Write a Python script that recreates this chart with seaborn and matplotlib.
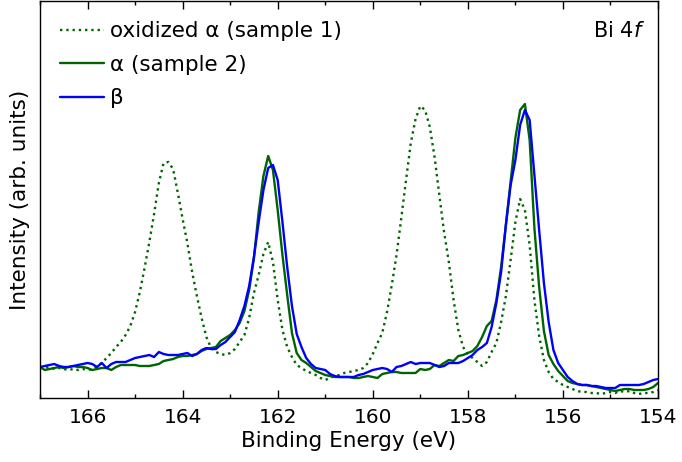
import numpy as np
import pandas as pd
import matplotlib
matplotlib.use("Agg")
import matplotlib.pyplot as plt
import seaborn as sns
from matplotlib.ticker import MultipleLocator

# Binding energy grid (eV), 167.0 -> 154.0 in 0.1 eV steps
energy = np.round(np.arange(1670, 1539, -1) / 10.0, 1)

oxidized_alpha = [
    31, 30, 31, 29, 30, 29, 28, 29, 28, 29,
    28, 29, 32, 35, 40, 45, 51, 56, 63, 72,
    86, 106, 130, 156, 184, 215, 235, 236, 229, 205,
    179, 155, 126, 102, 80, 61, 50, 46, 44, 43,
    45, 49, 56, 63, 80, 105, 123, 144, 156, 136,
    98, 68, 51, 41, 33, 30, 27, 25, 23, 20,
    18, 20, 22, 23, 25, 26, 27, 28, 30, 35,
    44, 55, 65, 86, 113, 143, 180, 218, 255, 279,
    292, 288, 271, 241, 203, 166, 136, 98, 68, 51,
    44, 40, 36, 32, 36, 46, 55, 76, 102, 138,
    176, 199, 188, 153, 98, 62, 38, 26, 19, 16,
    13, 11, 9, 7, 6, 6, 5, 5, 4, 5,
    6, 5, 7, 6, 7, 5, 4, 5, 5, 6,
    8,
]

alpha_sample2 = [
    31, 28, 29, 30, 31, 30, 31, 32, 31, 31,
    30, 28, 29, 30, 30, 28, 31, 33, 33, 33,
    33, 32, 32, 32, 33, 34, 37, 38, 39, 41,
    42, 42, 43, 44, 47, 49, 50, 51, 57, 60,
    63, 68, 75, 87, 108, 140, 186, 222, 242, 228,
    188, 143, 103, 65, 45, 38, 35, 31, 27, 25,
    23, 22, 21, 21, 21, 21, 20, 20, 21, 22,
    21, 20, 24, 25, 26, 26, 25, 25, 25, 25,
    29, 28, 29, 33, 32, 35, 38, 37, 42, 43,
    45, 47, 52, 61, 72, 77, 98, 131, 173, 216,
    260, 288, 294, 258, 170, 111, 67, 43, 34, 27,
    22, 17, 15, 14, 13, 13, 12, 11, 10, 9,
    8, 7, 8, 9, 9, 8, 8, 8, 9, 11,
    15,
]

beta = [
    31, 32, 33, 34, 32, 31, 31, 32, 33, 34,
    35, 34, 31, 35, 30, 34, 36, 36, 36, 38,
    40, 41, 42, 43, 41, 46, 44, 43, 43, 43,
    44, 45, 42, 44, 48, 50, 49, 49, 53, 56,
    61, 66, 78, 92, 112, 141, 176, 208, 230, 233,
    218, 176, 131, 92, 64, 51, 40, 34, 30, 29,
    28, 24, 22, 21, 21, 21, 21, 23, 24, 26,
    28, 29, 30, 29, 26, 31, 32, 34, 36, 34,
    35, 35, 35, 33, 31, 32, 35, 35, 35, 37,
    40, 43, 48, 51, 55, 71, 95, 126, 173, 213,
    238, 273, 288, 278, 223, 168, 115, 76, 48, 35,
    28, 21, 17, 14, 13, 13, 12, 12, 11, 10,
    10, 10, 13, 13, 13, 13, 13, 14, 16, 18,
    19,
]

labels = ["oxidized \u03b1 (sample 1)", "\u03b1 (sample 2)", "\u03b2"]
x_ticks = [166, 164, 162, 160, 158, 156, 154]

sns.set_style("ticks")
plt.rcParams["font.family"] = ["DejaVu Sans"]
plt.rcParams["text.color"] = "black"
plt.rcParams["axes.labelcolor"] = "black"
plt.rcParams["xtick.color"] = "black"
plt.rcParams["ytick.color"] = "black"

fig = plt.figure(figsize=(6.82, 4.62), dpi=100)
ax = fig.add_axes([40 / 682, 64 / 462, 618 / 682, 397 / 462])

series = [oxidized_alpha, alpha_sample2, beta]
colors = ["#006400", "#006400", "#0000ff"]
styles = [":", "-", "-"]
for vals, lab, col, ls in zip(series, labels, colors, styles):
    df = pd.DataFrame({"E": energy, "I": vals})
    sns.lineplot(data=df, x="E", y="I", ax=ax, color=col, linestyle=ls,
                 linewidth=1.7, label=lab, sort=False, estimator=None)

ax.set_xlim(167, 154)
ax.set_ylim(0, 397)
ax.set_xticks(x_ticks)
ax.set_xticklabels([str(t) for t in x_ticks])
ax.xaxis.set_minor_locator(MultipleLocator(1))
ax.set_yticks([])
ax.tick_params(axis="x", which="major", direction="in", length=6, width=1,
               top=True, bottom=True, labelsize=14.5, pad=7, colors="black")
ax.tick_params(axis="x", which="minor", direction="in", length=3, width=1,
               top=True, bottom=True, colors="black")
for sp in ax.spines.values():
    sp.set_visible(True)
    sp.set_color("black")
    sp.set_linewidth(1.0)

ax.set_xlabel("Binding Energy (eV)", fontsize=15.5, labelpad=3, color="black")
ax.set_ylabel("Intensity (arb. units)", fontsize=15.5, labelpad=7, color="black")

leg = ax.legend(loc="upper left", frameon=False, fontsize=15.5, handlelength=2.0,
                borderaxespad=0.6, labelspacing=0.62, handletextpad=0.3,
                borderpad=0.35)
for t in leg.get_texts():
    t.set_color("black")
ax.text(0.979, 0.95, "Bi 4$f$", transform=ax.transAxes, ha="right", va="top",
        fontsize=15, color="black")

fig.savefig("out.png", dpi=100)
